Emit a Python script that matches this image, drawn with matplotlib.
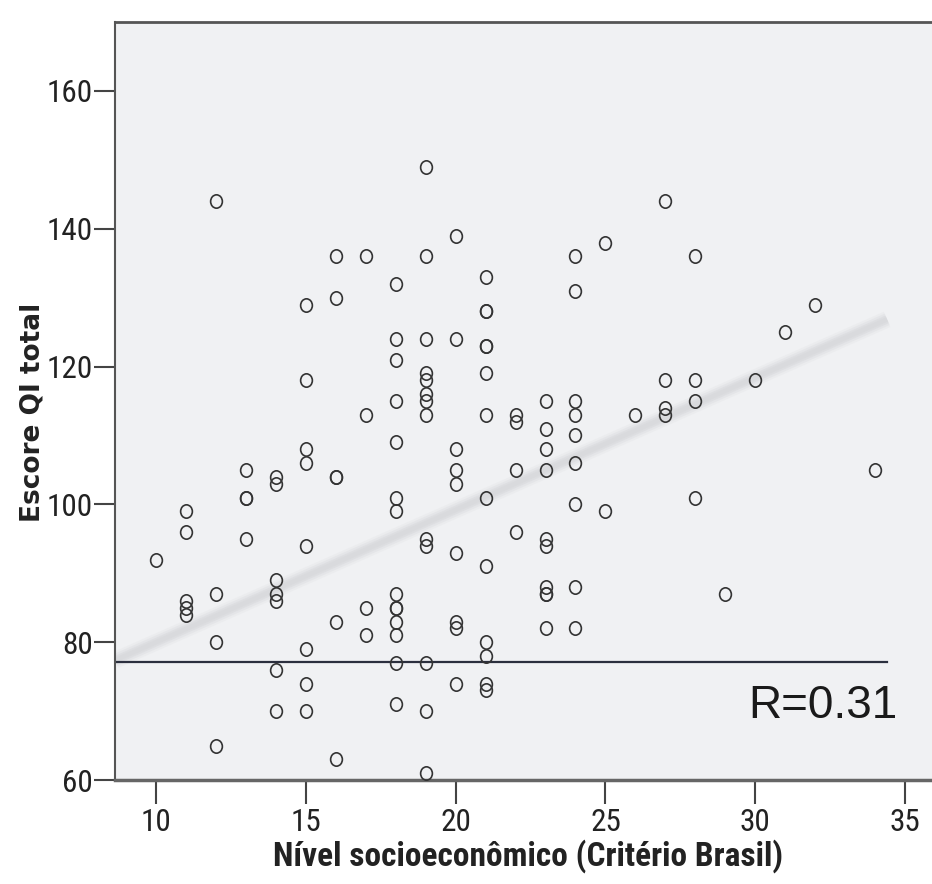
import numpy as np
import matplotlib
matplotlib.use("Agg")
import matplotlib.pyplot as plt
from matplotlib import font_manager as fm
from matplotlib.path import Path

# valores (nível socioeconômico x escore QI total)
nse_levels = [10, 11, 12, 13, 14, 15, 16, 17, 18, 19, 20, 21,
              22, 23, 24, 25, 26, 27, 28, 29, 30, 31, 32, 34]
qi_scores = [
    [92],
    [99, 96, 86, 85, 84],
    [144, 87, 80, 65],
    [105, 101, 101, 95],
    [104, 103, 89, 87, 86, 76, 70],
    [129, 118, 108, 106, 94, 79, 74, 70],
    [136, 130, 104, 104, 83, 63],
    [136, 113, 85, 81],
    [132, 124, 121, 115, 109, 101, 99, 87, 85, 85, 83, 81, 77, 71],
    [149, 136, 124, 119, 118, 116, 115, 113, 95, 94, 77, 70, 61],
    [139, 124, 108, 105, 103, 93, 83, 82, 74],
    [133, 128, 128, 123, 123, 119, 113, 101, 91, 80, 78, 74, 73],
    [113, 112, 105, 96],
    [115, 111, 108, 105, 95, 94, 88, 87, 87, 82],
    [136, 131, 115, 113, 110, 106, 100, 88, 82],
    [138, 99],
    [113],
    [144, 118, 114, 113],
    [136, 118, 115, 101],
    [87],
    [118],
    [125],
    [129],
    [105],
]

# reta de ajuste e linha de referência
fit_intercept = 60.8
fit_slope = 1.92
line_x = [8.63, 34.4]
ref_y = 77.2
r_text = "R=0.31"

x_ticks = [10, 15, 20, 25, 30, 35]
y_ticks = [60, 80, 100, 120, 140, 160]


def pick_narrow_font():
    # procura uma fonte condensada instalada (os rótulos do SPSS são estreitos)
    names = {f.name for f in fm.fontManager.ttflist}
    for n in ["Liberation Sans Narrow", "Roboto Condensed", "Open Sans Condensed",
              "DejaVu Sans Condensed", "Noto Sans Condensed"]:
        if n in names:
            return n, "normal", True
    for f in fm.fontManager.ttflist:
        if f.name in ("DejaVu Sans", "Noto Sans", "Roboto") and f.stretch == "condensed":
            return f.name, "condensed", True
    return "Liberation Sans", "normal", False


narrow, stretch, is_narrow = pick_narrow_font()
tick_size = 22.5 if is_narrow else 18
xlab_size = 24 if is_narrow else 20

x = np.concatenate([[lvl] * len(v) for lvl, v in zip(nse_levels, qi_scores)])
y = np.concatenate([np.array(v, dtype=float) for v in qi_scores])

# marcador levemente oval (como no SPSS)
circ = Path.unit_circle()
oval = Path(circ.vertices * np.array([0.88, 1.0]), circ.codes)

fig = plt.figure(figsize=(9.32, 8.84), dpi=100)
ax = fig.add_axes([0.1234, 0.1176, 0.8766, 0.8575])
ax.set_facecolor("#F0F1F3")

# reta de ajuste (cinza claro, borrada)
fx = np.array(line_x)
fy = fit_intercept + fit_slope * fx
for lw, a in [(12, 0.2), (9, 0.35), (6, 0.6), (3.5, 0.8)]:
    ax.plot(fx, fy, color="#D9DADD", lw=lw, alpha=a, solid_capstyle="butt", zorder=1)

ax.plot(line_x, [ref_y, ref_y], color="#2B2F3E", lw=1.6, zorder=2)

ax.plot(x, y, linestyle="none", marker=oval, markersize=9.6,
        markerfacecolor="none", markeredgecolor="#333333",
        markeredgewidth=1.2, zorder=3)

ax.set_xlim(8.63, 35.9)
ax.set_ylim(60, 170)
ax.set_xticks(x_ticks)
ax.set_yticks(y_ticks)

for lab in ax.get_xticklabels() + ax.get_yticklabels():
    lab.set_family([narrow, "DejaVu Sans"])
    lab.set_stretch(stretch)
    lab.set_fontsize(tick_size)
    lab.set_color("#222222")

ax.tick_params(axis="y", length=15, width=1.5, pad=1, color="#444444")
ax.tick_params(axis="x", length=17, width=1.5, pad=3, color="#444444")

ax.spines["right"].set_visible(False)
ax.spines["left"].set_color("#555555")
ax.spines["left"].set_linewidth(1.5)
ax.spines["top"].set_color("#555555")
ax.spines["top"].set_linewidth(2)
ax.spines["bottom"].set_color("#666666")
ax.spines["bottom"].set_linewidth(2.5)

ax.set_xlabel("Nível socioeconômico (Critério Brasil)", family=[narrow, "DejaVu Sans"],
              stretch=stretch, fontsize=xlab_size, fontweight="bold", color="#222222")
ax.xaxis.set_label_coords(0.505, -0.0785)
ax.set_ylabel("Escore QI total", family="DejaVu Sans", fontsize=19,
              fontweight="bold", color="#222222")
ax.yaxis.set_label_coords(-0.085, 0.4855)

ax.text(34.74, 69.0, r_text, ha="right", va="baseline",
        family=["Liberation Sans", "DejaVu Sans"], fontsize=33, color="#1A1A1A")

fig.savefig("out.png", dpi=100, facecolor="white")
